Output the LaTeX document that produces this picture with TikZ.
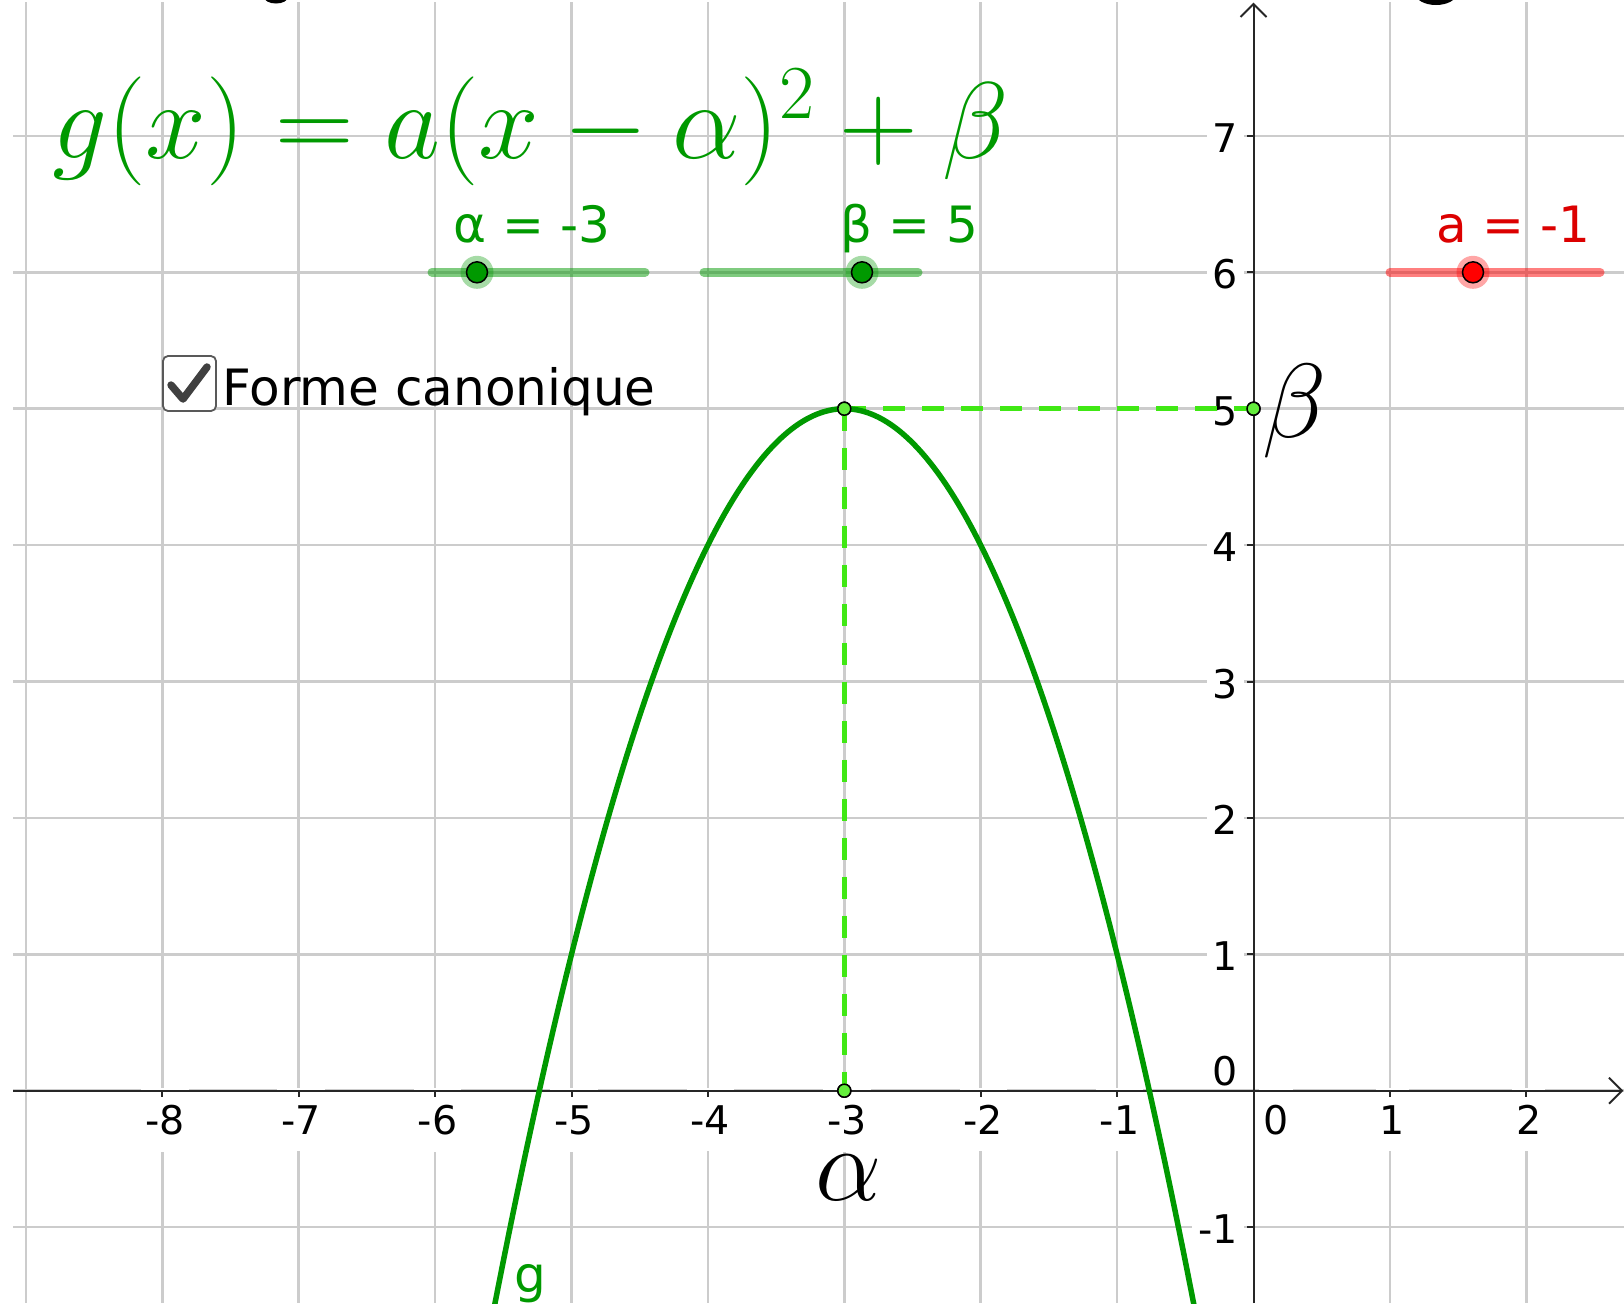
\RequirePackage{fix-cm}
\documentclass[tikz,border=0pt]{standalone}
\usepackage{fontspec}
\newfontfamily\dv{DejaVu Sans}
\newlength\pxu
\setlength\pxu{0.02cm}
\definecolor{ggreen}{RGB}{0,153,0}
\definecolor{lime}{RGB}{64,232,20}
\definecolor{ptgreen}{RGB}{100,238,60}
\definecolor{gred}{RGB}{220,0,0}
\definecolor{kred}{RGB}{255,0,0}
\begin{document}
\begin{tikzpicture}[x=0.02cm,y=-0.02cm,
  gridline/.style={draw=black!20, line width=2.5\pxu},
  axisline/.style={draw=black!85, line width=2\pxu},
  tickfont/.style={font=\dv\fontsize{22.5}{26}\selectfont},
  xlab/.style={tickfont, fill=white, inner xsep=4\pxu, inner ysep=17\pxu, anchor=base},
  ylab/.style={tickfont, fill=white, inner xsep=6\pxu, inner ysep=6\pxu, anchor=base east},
  slidertrack/.style={line width=9\pxu, line cap=round, draw opacity=0.5},
  knob/.style={circle, draw=black, line width=1.5\pxu, minimum size=21\pxu, inner sep=0pt},
  halo/.style={opacity=0.35},
  slabel/.style={font=\dv\fontsize{28.5}{32}\selectfont, inner sep=0pt, anchor=base west},
  pt/.style={circle, fill=ptgreen, draw=black, line width=1.5\pxu, minimum size=13\pxu, inner sep=0pt},
  dashline/.style={draw=lime, line width=4.5\pxu, dash pattern=on 22\pxu off 17\pxu},
  bigmath/.style={font=\fontsize{60}{64}\selectfont, inner sep=0pt}
]
\useasboundingbox (0,0) rectangle (1624,1303);
\fill[white] (0,0) rectangle (1624,1303);
\clip (0,0) rectangle (1624,1303);

% cut-off glyph fragments at the top edge
\fill[black] (276,-3) ellipse [x radius=12, y radius=6.5];
\fill[black] (1436,-7) ellipse [x radius=21, y radius=12];

% grid
\foreach \k in {-9,-8,-7,-6,-5,-4,-3,-2,-1,1,2}
  \draw[gridline] ({1253.5+136.4*\k},2) -- ({1253.5+136.4*\k},1303);
\foreach \k in {-1,0,1,2,3,4,5,6,7}
  \draw[gridline] (13,{1090.7-136.4*\k}) -- (1624,{1090.7-136.4*\k});

% tick labels
\foreach \k in {-8,-7,-6,-5,-4,-3,-2,-1,1,2}
  \node[xlab] (xl\k) at ({1256+136.4*\k},1134) {\k};
\node[xlab] (xl0) at (1276,1134) {0};
\foreach \k in {-1,1,2,3,4,5,6,7}
  \node[ylab] (yl\k) at (1244,{1107.2-136.4*\k}) {\k\hspace{3.4pt}};
\node[ylab, inner ysep=2\pxu] (yl0) at (1244,1085) {0\hspace{3.4pt}};

% axes
\coordinate (xs) at (13,1090.7);
\coordinate (xe) at (1622,1090.7);
\coordinate (ys) at (1253.5,1303);
\coordinate (ye) at (1253.5,4);
\draw[axisline] (xs) -- (xe);
\draw[axisline] (ys) -- (ye);
\draw[axisline, line join=miter] (xe) ++(-13,-13) -- (xe) -- ++(-13,13);
\draw[axisline, line join=miter] (ye) ++(-13,13) -- (ye) -- ++(13,13);
\foreach \k in {-8,-7,-6,-5,-4,-3,-2,-1,1,2}
  \draw[axisline] ({1253.5+136.4*\k},1090.7) -- ++(0,6);
\foreach \k in {-1,1,2,3,4,5,6,7}
  \draw[axisline] (1253.5,{1090.7-136.4*\k}) -- ++(-7,0);

% formula
\node[font=\fontsize{62}{66}\selectfont, text=ggreen, inner sep=0pt, anchor=base west] (formula) at (52,158)
  {$g(x)=a(x-\alpha)^2+\beta$};

% sliders
\draw[slidertrack, draw=ggreen] (432,272.3) -- (645,272.3);
\draw[slidertrack, draw=ggreen] (704,272.3) -- (918,272.3);
\draw[slidertrack, draw=kred] (1390,272.3) -- (1600,272.3);
\fill[ggreen, halo] (477,272.3) circle [radius=16.5];
\fill[ggreen, halo] (862,272.3) circle [radius=16.5];
\fill[kred, halo] (1473,272.3) circle [radius=16.5];
\node[knob, fill=ggreen] (kalpha) at (477,272.3) {};
\node[knob, fill=ggreen] (kbeta) at (862,272.3) {};
\node[knob, fill=kred] (ka) at (1473,272.3) {};
\node[slabel, text=ggreen] (lalpha) at (453,242) {α = -3};
\node[slabel, text=ggreen] (lbeta) at (840,242) {β = 5};
\node[slabel, text=gred] (la) at (1436,242) {a = -1};

% checkbox
\draw[draw=black!65, line width=1.8\pxu, fill=white, rounded corners=5\pxu] (163,356) rectangle (216,411);
\draw[draw=black!75, line width=7.5\pxu, line cap=round, line join=round] (171,385) -- (183,399) -- (207,367);
\node[font=\dv\fontsize{28.5}{32}\selectfont, inner sep=0pt, anchor=base west] (forme) at (222,405) {Forme canonique};

% points and dashed lines
\node[pt] (V) at (844.3,408.7) {};
\node[pt] (B) at (1253.5,408.7) {};
\node[pt] (A) at (844.3,1090.7) {};
\draw[dashline] (V.center) -- (B.center);
\draw[dashline] (V.center) -- (A.center);

% parabola
\draw[ggreen, line width=5.5\pxu, line cap=round]
  plot[domain=-5.62:-0.38, samples=160, smooth] ({1253.5+136.4*\x},{1090.7+136.4*((\x+3)*(\x+3)-5)});
\node[slabel, text=ggreen] (glab) at (514,1292) {g};

% redraw points over curve
\node[pt] at (V) {};
\node[pt] at (B) {};
\node[pt] at (A) {};

% big labels
\node[bigmath, anchor=base west] (betalab) at (1262,437) {$\beta$};
\node[bigmath, anchor=base] (alphalab) at (849,1200) {$\alpha$};
\end{tikzpicture}
\end{document}
